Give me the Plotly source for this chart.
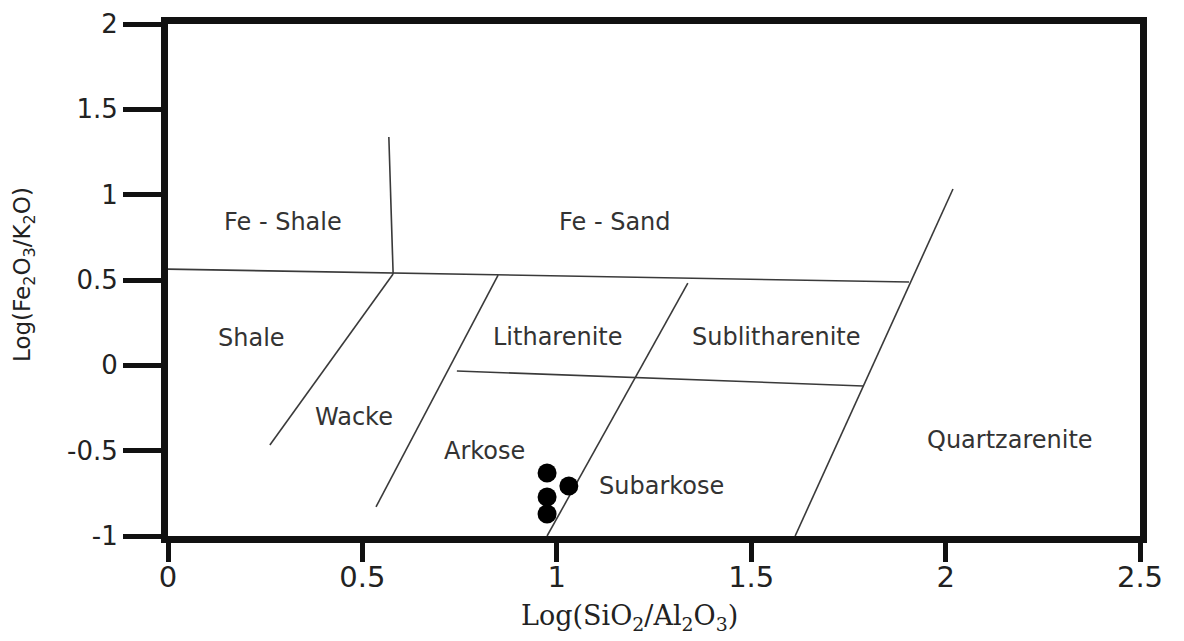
import plotly.graph_objects as go

# Sample points: Log(SiO2/Al2O3), Log(Fe2O3/K2O)
sample_x = [0.975, 1.031, 0.975, 0.975]
sample_y = [-0.631, -0.707, -0.771, -0.871]

# Classification boundary segments (x pairs, y pairs)
boundaries = {
    "fe_split":      ([0.568, 0.579], [1.338, 0.535]),
    "fe_top":        ([0.000, 1.906], [0.564, 0.488]),
    "shale_wacke":   ([0.579, 0.262], [0.535, -0.467]),
    "wacke_arkose":  ([0.849, 0.535], [0.529, -0.830]),
    "lith_lower":    ([0.743, 1.788], [-0.033, -0.121]),
    "lith_sublith":  ([1.337, 0.975], [0.482, -1.000]),
    "quartzarenite": ([2.019, 1.613], [1.033, -1.000]),
}

# Field labels
field_names = ["Fe - Shale", "Fe - Sand", "Shale", "Wacke", "Litharenite",
               "Sublitharenite", "Arkose", "Subarkose", "Quartzarenite"]
field_x = [0.296, 1.150, 0.216, 0.478, 1.003, 1.566, 0.815, 1.268, 2.166]
field_y = [0.840, 0.840, 0.160, -0.303, 0.166, 0.166, -0.502, -0.707, -0.437]

x_ticks = [0, 0.5, 1, 1.5, 2, 2.5]
x_ticktext = ["0", "0.5", "1", "1.5", "2", "2.5"]
y_ticks = [-1, -0.5, 0, 0.5, 1, 1.5, 2]
y_ticktext = ["-1", "-0.5", "0", "0.5", "1", "1.5", "2"]

fig = go.Figure()
for name, (bx, by) in boundaries.items():
    fig.add_trace(go.Scatter(x=bx, y=by, mode="lines", name=name,
                             line=dict(color="#3a3a3a", width=1.6),
                             showlegend=False, hoverinfo="skip"))

fig.add_trace(go.Scatter(x=sample_x, y=sample_y, mode="markers", name="Samples",
                         marker=dict(color="black", size=19), showlegend=False))

for t, tx, ty in zip(field_names, field_x, field_y):
    fig.add_annotation(x=tx, y=ty, text=t, showarrow=False,
                       font=dict(family="DejaVu Sans", size=24, color="#333333"))

fig.add_annotation(xref="paper", yref="paper", x=0.475, y=-0.160,
                   text="Log(SiO<sub>2</sub>/Al<sub>2</sub>O<sub>3</sub>)",
                   showarrow=False, xanchor="center", yanchor="middle",
                   font=dict(family="DejaVu Serif", size=27, color="#222222"))
fig.add_annotation(xref="paper", yref="paper", x=-0.148, y=0.51,
                   text="Log(Fe<sub>2</sub>O<sub>3</sub>/K<sub>2</sub>O)",
                   showarrow=False, textangle=-90, xanchor="center", yanchor="middle",
                   font=dict(family="DejaVu Sans", size=23, color="#222222"))

axis_common = dict(showgrid=False, zeroline=False, showline=True, mirror=True,
                   linecolor="#111111", linewidth=7, ticks="outside",
                   tickcolor="#111111", tickwidth=5, automargin=False)

fig.update_xaxes(range=[0, 2.5], tickvals=x_ticks, ticktext=x_ticktext, ticklen=19,
                 ticklabelstandoff=-10,
                 tickfont=dict(family="DejaVu Sans", size=29, color="#222222"),
                 **axis_common)
fig.update_yaxes(range=[-1, 2], tickvals=y_ticks, ticktext=y_ticktext, ticklen=38,
                 tickfont=dict(family="DejaVu Sans", size=26, color="#222222"),
                 **axis_common)

# page body adds an 8px margin, so the figure is 8px smaller and shifted accordingly
fig.update_layout(width=1176, height=633, plot_bgcolor="white", paper_bgcolor="white",
                  margin=dict(l=160, r=44, t=16, b=105))

fig.write_html("out.html")
